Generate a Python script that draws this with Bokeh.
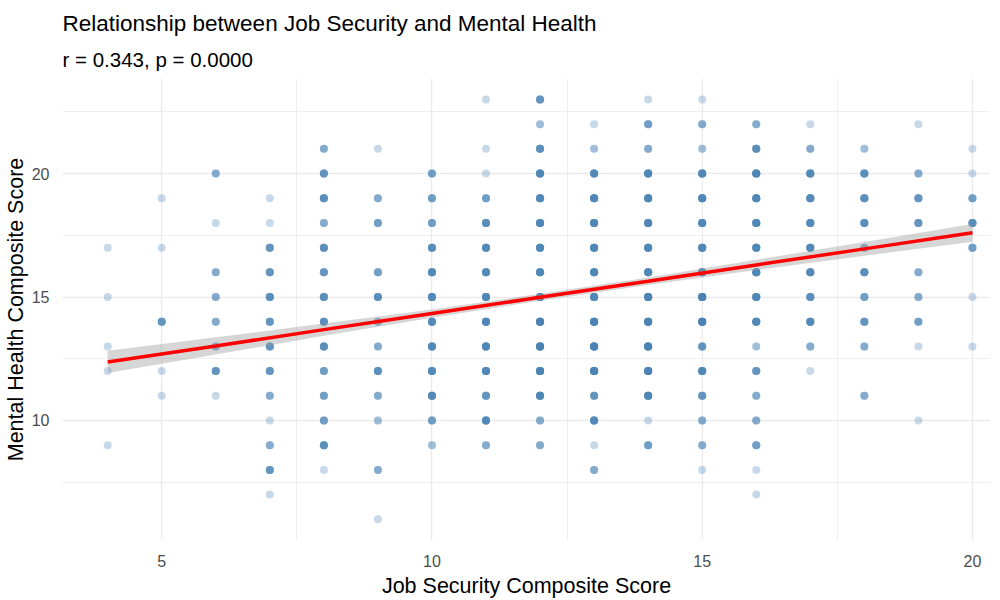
import numpy as np
from bokeh.plotting import figure
from bokeh.models import Range1d, FixedTicker, Title, ColumnDataSource
from bokeh.embed import file_html
from bokeh.resources import INLINE

# ---- data ----
col_x = [4, 5, 6, 7, 8, 9, 10, 11, 12, 13, 14, 15, 16, 17, 18, 19, 20]
col_y = [
    [17, 15, 13, 12, 9],
    [19, 17, 14, 12, 11],
    [20, 18, 16, 15, 14, 13, 12, 11],
    [19, 18, 17, 16, 15, 14, 13, 12, 11, 10, 9, 8, 7],
    [21, 20, 19, 18, 17, 16, 15, 14, 13, 12, 11, 10, 9, 8],
    [21, 19, 18, 16, 15, 14, 13, 12, 11, 10, 8, 6],
    [20, 19, 18, 17, 16, 15, 14, 13, 12, 11, 10, 9],
    [23, 21, 20, 19, 18, 17, 16, 15, 14, 13, 12, 11, 10, 9],
    [23, 22, 21, 20, 19, 18, 17, 16, 15, 14, 13, 12, 11, 10, 9],
    [22, 21, 20, 19, 18, 17, 16, 15, 14, 13, 12, 11, 10, 9, 8],
    [23, 22, 21, 20, 19, 18, 17, 16, 15, 14, 13, 12, 11, 10, 9],
    [23, 22, 21, 20, 19, 18, 17, 16, 15, 14, 13, 12, 11, 10, 9, 8],
    [22, 21, 20, 19, 18, 17, 16, 15, 14, 13, 12, 11, 10, 9, 8, 7],
    [22, 21, 20, 19, 18, 17, 16, 15, 14, 13, 12],
    [21, 20, 19, 18, 17, 16, 15, 14, 13, 11],
    [22, 20, 19, 18, 16, 15, 14, 13, 10],
    [21, 20, 19, 18, 17, 15, 13],
]
col_n = [
    [1, 1, 1, 1, 1],
    [1, 1, 5, 1, 1],
    [3, 1, 3, 3, 3, 3, 5, 1],
    [1, 1, 5, 5, 6, 5, 5, 5, 3, 1, 3, 5, 1],
    [3, 5, 6, 3, 6, 5, 6, 6, 6, 4, 4, 4, 6, 1],
    [1, 3, 4, 4, 6, 3, 3, 6, 3, 2, 3, 1],
    [4, 4, 4, 6, 7, 7, 7, 7, 7, 7, 4, 2],
    [1, 1, 1, 4, 6, 7, 7, 8, 8, 8, 8, 5, 7, 3],
    [5, 2, 6, 8, 8, 8, 8, 8, 8, 10, 10, 10, 8, 3, 3],
    [1, 2, 7, 8, 8, 8, 8, 8, 10, 10, 10, 5, 7, 1, 3],
    [1, 4, 3, 8, 8, 8, 8, 8, 10, 10, 10, 10, 8, 1, 4],
    [1, 3, 2, 8, 8, 8, 8, 8, 10, 10, 5, 8, 5, 3, 3, 1],
    [3, 6, 8, 8, 8, 8, 8, 8, 8, 2, 5, 3, 3, 4, 1, 1],
    [1, 3, 7, 7, 7, 7, 7, 6, 7, 3, 1],
    [2, 6, 6, 6, 3, 6, 4, 5, 3, 3],
    [1, 3, 5, 5, 3, 3, 4, 1, 1],
    [1, 1, 4, 6, 4, 1, 1],
]

fit_x = [4, 6, 8, 10, 12, 14, 16, 18, 20]
fit_y = [12.37, 13.02, 13.68, 14.33, 14.99, 15.64, 16.30, 16.95, 17.60]
fit_hw = [0.45, 0.35, 0.25, 0.17, 0.14, 0.15, 0.21, 0.28, 0.36]

x_major = [5, 10, 15, 20]
x_minor = [7.5, 12.5, 17.5]
y_major = [10, 15, 20]
y_minor = [7.5, 12.5, 17.5, 22.5]

title_text = "Relationship between Job Security and Mental Health"
subtitle_text = "r = 0.343, p = 0.0000"
x_label = "Job Security Composite Score"
y_label = "Mental Health Composite Score"

# ---- expand points ----
px, py = [], []
for xv, ys, ns in zip(col_x, col_y, col_n):
    for yv, nv in zip(ys, ns):
        px.extend([xv] * nv)
        py.extend([yv] * nv)

FONT = "Liberation Sans"

p = figure(width=1000, height=600, output_backend="svg", toolbar_location=None,
           x_range=Range1d(3.164, 20.334), y_range=Range1d(5.14, 23.85),
           min_border_left=62, min_border_right=10, min_border_top=78,
           min_border_bottom=56)
p.outline_line_color = None
p.background_fill_color = "white"
p.border_fill_color = "white"

p.title.text = title_text
p.title.text_font = FONT
p.title.text_font_size = "22.5px"
p.title.text_font_style = "normal"
p.title.text_color = "#000000"
p.title.align = "left"
p.title.standoff = 6
p.add_layout(Title(text=subtitle_text, text_font=FONT, text_font_size="20.5px",
                   text_font_style="normal", text_color="#000000",
                   align="left", standoff=15), "above")

# axes
for ax in (p.xaxis[0], p.yaxis[0]):
    ax.axis_line_color = None
    ax.major_tick_line_color = None
    ax.minor_tick_line_color = None
    ax.major_label_text_font = FONT
    ax.major_label_text_font_size = "16px"
    ax.major_label_text_color = "#4D4D4D"
    ax.axis_label_text_font = FONT
    ax.axis_label_text_font_size = "21.5px"
    ax.axis_label_text_font_style = "normal"
    ax.axis_label_text_color = "#000000"

p.xaxis.ticker = FixedTicker(ticks=x_major, minor_ticks=x_minor)
p.yaxis.ticker = FixedTicker(ticks=y_major, minor_ticks=y_minor)
p.xaxis.axis_label = x_label
p.yaxis.axis_label = y_label
p.xaxis.major_label_standoff = 8
p.xaxis.axis_label_standoff = 4
p.yaxis.major_label_standoff = 7
p.yaxis.axis_label_standoff = 1

for g in (p.xgrid[0], p.ygrid[0]):
    g.grid_line_color = "#EBEBEB"
    g.grid_line_width = 1.4
    g.minor_grid_line_color = "#EBEBEB"
    g.minor_grid_line_width = 0.8

# points
src = ColumnDataSource(dict(x=px, y=py))
p.scatter("x", "y", source=src, size=8, fill_color="steelblue", fill_alpha=0.3,
          line_color=None)

# confidence band and fit
lo = [a - b for a, b in zip(fit_y, fit_hw)]
hi = [a + b for a, b in zip(fit_y, fit_hw)]
p.varea(x=fit_x, y1=lo, y2=hi, fill_color="#999999", fill_alpha=0.4)
p.line(fit_x, fit_y, line_color="red", line_width=3.5)

open("out.html", "w").write(file_html(p, INLINE))
